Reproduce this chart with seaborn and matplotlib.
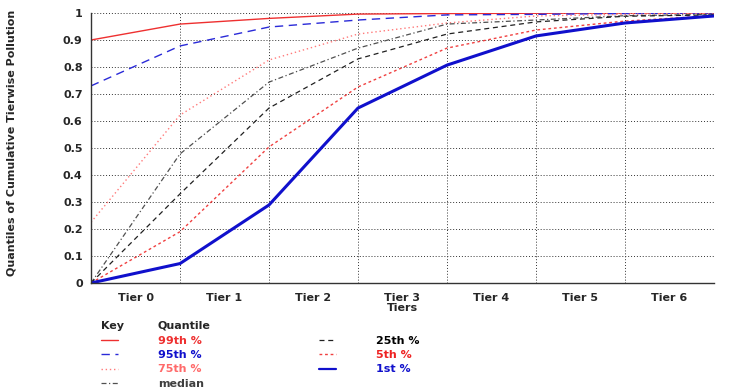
import matplotlib
matplotlib.use("Agg")
import matplotlib.pyplot as plt
import seaborn as sns
import pandas as pd
from matplotlib.lines import Line2D

# boundaries between tiers (0..7), tier names centered in between
boundaries = [0, 1, 2, 3, 4, 5, 6, 7]
tier_labels = ["Tier 0", "Tier 1", "Tier 2", "Tier 3", "Tier 4", "Tier 5", "Tier 6"]

q99 = [0.90, 0.959, 0.980, 0.996, 0.998, 0.999, 1.0, 1.0]
q95 = [0.73, 0.878, 0.948, 0.974, 0.993, 0.995, 0.998, 1.0]
q75 = [0.225, 0.622, 0.826, 0.922, 0.963, 0.989, 0.995, 1.0]
q50 = [0.0, 0.478, 0.744, 0.870, 0.959, 0.974, 0.990, 0.995]
q25 = [0.0, 0.330, 0.648, 0.830, 0.922, 0.967, 0.988, 0.993]
q05 = [0.0, 0.190, 0.504, 0.726, 0.870, 0.937, 0.970, 0.990]
q01 = [0.0, 0.072, 0.289, 0.648, 0.807, 0.915, 0.963, 0.989]

names = ["99th %", "95th %", "75th %", "median", "25th %", "5th %", "1st %"]
series = [q99, q95, q75, q50, q25, q05, q01]

styles = {
    "99th %": dict(color="#ee3030", ls="-", lw=1.0),
    "95th %": dict(color="#2a2ad8", ls=(0, (6, 4)), lw=1.0),
    "75th %": dict(color="#ff7a7a", ls=(0, (1, 2)), lw=1.0),
    "median": dict(color="#505050", ls=(0, (4, 2, 1, 2)), lw=0.9),
    "25th %": dict(color="#202020", ls=(0, (4, 3)), lw=0.9),
    "5th %": dict(color="#f04040", ls=(0, (2, 2)), lw=1.0),
    "1st %": dict(color="#1010cc", ls="-", lw=2.2),
}
text_colors = {
    "99th %": "#ee3030", "95th %": "#1010cc", "75th %": "#ff6a6a",
    "median": "#404040", "25th %": "#000000", "5th %": "#ee2222", "1st %": "#1010cc",
}

sns.set_style("white")
plt.rcParams["font.family"] = ["DejaVu Sans"]
plt.rcParams["font.weight"] = "bold"

fig = plt.figure(figsize=(7.36, 3.91), dpi=100)
ax = fig.add_axes([91 / 736, 1 - 283 / 391, (714 - 91) / 736, (283 - 13) / 391])

for name, vals in zip(names, series):
    df = pd.DataFrame({"x": boundaries, "y": vals})
    st = styles[name]
    sns.lineplot(data=df, x="x", y="y", ax=ax, color=st["color"],
                 linestyle=st["ls"], linewidth=st["lw"])

ax.set_xlim(0, 7)
ax.set_ylim(0, 1)
ax.set_xticks(boundaries)
ax.set_xticklabels([])
ax.set_xticks([b + 0.5 for b in boundaries[:-1]], minor=True)
ax.set_xticklabels(tier_labels, minor=True, fontsize=8, fontweight="bold")
ax.tick_params(axis="x", which="minor", length=0, pad=7)
ax.tick_params(axis="x", which="major", length=4, direction="out", width=0.8)
ax.set_yticks([i / 10 for i in range(11)])
ax.set_yticklabels(["0", "0.1", "0.2", "0.3", "0.4", "0.5", "0.6", "0.7", "0.8", "0.9", "1"],
                   fontsize=8, fontweight="bold")
ax.tick_params(axis="y", length=4, direction="out", width=0.8, pad=2)
ax.grid(True, which="major", color="#333333", linestyle=(0, (1, 2)), linewidth=0.7)
ax.set_axisbelow(True)
for s in ["top", "right"]:
    ax.spines[s].set_visible(False)
for s in ["left", "bottom"]:
    ax.spines[s].set_color("#333333")
    ax.spines[s].set_linewidth(1.0)

ax.set_xlabel("Tiers", fontsize=8, fontweight="bold")
ax.set_ylabel("Quantiles of Cumulative Tierwise Pollution", fontsize=8, fontweight="bold")
ax.xaxis.set_label_coords(0.5, -(303 - 283) / (283 - 13))
ax.yaxis.set_label_coords((12 - 91) / (714 - 91), 0.52)
ax.yaxis.label.set_va("center")

# key
fig.text(101 / 736, 1 - 326 / 391, "Key", fontsize=8, fontweight="bold", va="center")
fig.text(158 / 736, 1 - 326 / 391, "Quantile", fontsize=8, fontweight="bold", va="center")
handles = [Line2D([], [], color=styles[n]["color"], linestyle=styles[n]["ls"],
                  linewidth=min(styles[n]["lw"], 1.6)) for n in names]
leg = fig.legend(handles, names, loc="upper left", bbox_to_anchor=(101 / 736, 1 - 336 / 391),
                 ncol=2, frameon=False, fontsize=8, handlelength=1.5, handletextpad=3.65,
                 columnspacing=10.35, labelspacing=0.38, borderpad=0, borderaxespad=0,
                 labelcolor=[text_colors[n] for n in names])
for t in leg.get_texts():
    t.set_fontweight("bold")

fig.savefig("out.png", dpi=100)
